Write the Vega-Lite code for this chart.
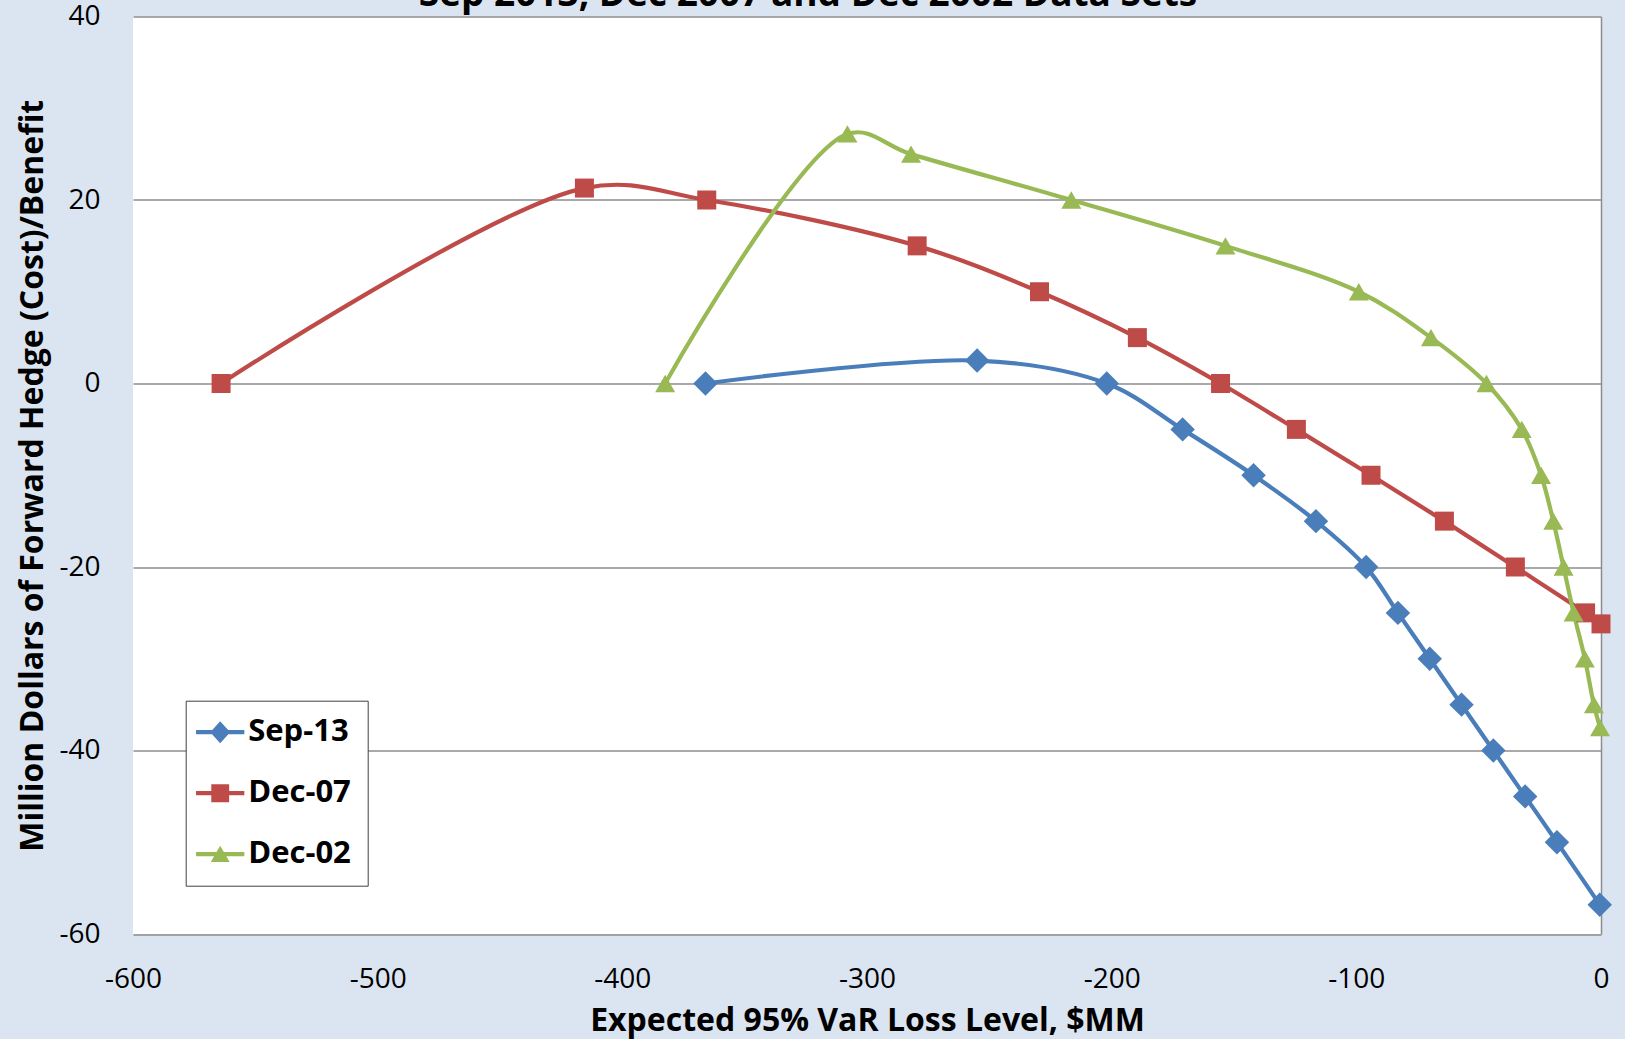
{
  "$schema": "https://vega.github.io/schema/vega-lite/v6.json",
  "width": 1468,
  "height": 917.5,
  "autosize": {"type": "none"},
  "padding": {"left": 133, "top": 16.5, "right": 24, "bottom": 105},
  "background": "#DBE5F1",
  "title": {
    "text": "Sep 2013, Dec 2007 and Dec 2002 Data Sets",
    "font": "Open Sans",
    "fontSize": 37,
    "fontWeight": "bold",
    "color": "#000000",
    "baseline": "alphabetic",
    "offset": -40,
    "dx": -59,
    "anchor": "middle"
  },
  "config": {
    "view": {"stroke": null, "fill": "#FFFFFF"},
    "font": "Open Sans"
  },
  "data": {
    "values": [
      {"series": "Sep-13", "x": -366, "y": 0},
      {"series": "Sep-13", "x": -255, "y": 2.5},
      {"series": "Sep-13", "x": -202, "y": 0},
      {"series": "Sep-13", "x": -171, "y": -5},
      {"series": "Sep-13", "x": -142, "y": -10},
      {"series": "Sep-13", "x": -116.5, "y": -15},
      {"series": "Sep-13", "x": -96, "y": -20},
      {"series": "Sep-13", "x": -83, "y": -25},
      {"series": "Sep-13", "x": -70, "y": -30},
      {"series": "Sep-13", "x": -57, "y": -35},
      {"series": "Sep-13", "x": -44, "y": -40},
      {"series": "Sep-13", "x": -31, "y": -45},
      {"series": "Sep-13", "x": -18, "y": -50},
      {"series": "Sep-13", "x": -0.5, "y": -56.8},
      {"series": "Dec-07", "x": -564, "y": 0},
      {"series": "Dec-07", "x": -415.5, "y": 21.3},
      {"series": "Dec-07", "x": -365.5, "y": 20},
      {"series": "Dec-07", "x": -279.5, "y": 15},
      {"series": "Dec-07", "x": -229.5, "y": 10},
      {"series": "Dec-07", "x": -189.5, "y": 5},
      {"series": "Dec-07", "x": -155.5, "y": 0},
      {"series": "Dec-07", "x": -124.5, "y": -5},
      {"series": "Dec-07", "x": -94, "y": -10},
      {"series": "Dec-07", "x": -64, "y": -15},
      {"series": "Dec-07", "x": -35, "y": -20},
      {"series": "Dec-07", "x": -6.3, "y": -25},
      {"series": "Dec-07", "x": 0, "y": -26.2},
      {"series": "Dec-02", "x": -382.5, "y": 0},
      {"series": "Dec-02", "x": -308, "y": 27.2},
      {"series": "Dec-02", "x": -282, "y": 25},
      {"series": "Dec-02", "x": -216.5, "y": 20},
      {"series": "Dec-02", "x": -153.5, "y": 15},
      {"series": "Dec-02", "x": -99, "y": 10},
      {"series": "Dec-02", "x": -69.5, "y": 5},
      {"series": "Dec-02", "x": -46.8, "y": 0},
      {"series": "Dec-02", "x": -32.4, "y": -5},
      {"series": "Dec-02", "x": -24.5, "y": -10},
      {"series": "Dec-02", "x": -19.5, "y": -15},
      {"series": "Dec-02", "x": -15.3, "y": -20},
      {"series": "Dec-02", "x": -11.2, "y": -25},
      {"series": "Dec-02", "x": -6.6, "y": -30},
      {"series": "Dec-02", "x": -2.9, "y": -35},
      {"series": "Dec-02", "x": -0.4, "y": -37.5}
    ]
  },
  "encoding": {
    "x": {
      "field": "x",
      "type": "quantitative",
      "scale": {"domain": [-600, 0], "nice": false, "zero": false},
      "axis": {
        "values": [-600, -500, -400, -300, -200, -100, 0],
        "labelExpr": "datum.value + ''",
        "title": "Expected 95% VaR Loss Level, $MM",
        "grid": true,
        "gridColor": {"condition": {"test": "datum.value === 0", "value": "#8C8C8C"}, "value": "transparent"},
        "gridWidth": 1.5,
        "domain": false,
        "ticks": false,
        "tickSize": 0,
        "labelPadding": 31,
        "labelFlush": false,
        "labelOverlap": false,
        "labelFont": "Open Sans",
        "labelFontSize": 28,
        "labelColor": "#000000",
        "titleFont": "Open Sans",
        "titleFontSize": 32,
        "titleFontWeight": "bold",
        "titleColor": "#000000",
        "titleBaseline": "alphabetic",
        "titleY": 96
      }
    },
    "y": {
      "field": "y",
      "type": "quantitative",
      "scale": {"domain": [-60, 40], "nice": false, "zero": false},
      "axis": {
        "values": [-60, -40, -20, 0, 20, 40],
        "labelExpr": "datum.value + ''",
        "title": "Million Dollars of Forward Hedge (Cost)/Benefit",
        "grid": true,
        "gridColor": "#8C8C8C",
        "gridWidth": 1.3,
        "domain": false,
        "ticks": false,
        "tickSize": 0,
        "labelPadding": 33,
        "labelFlush": false,
        "labelOverlap": false,
        "labelFont": "Open Sans",
        "labelFontSize": 28,
        "labelColor": "#000000",
        "titleFont": "Open Sans",
        "titleFontSize": 32,
        "titleFontWeight": "bold",
        "titleColor": "#000000",
        "titleBaseline": "alphabetic",
        "titleX": -91
      }
    },
    "color": {
      "field": "series",
      "type": "nominal",
      "scale": {"domain": ["Sep-13", "Dec-07", "Dec-02"], "range": ["#4A7EBB", "#BE4B48", "#98B954"]},
      "legend": {
        "title": null,
        "orient": "none",
        "legendX": 52.7,
        "legendY": 684.2,
        "padding": 16,
        "rowPadding": 29,
        "labelOffset": 12.5,
        "symbolOffset": 3,
        "labelFont": "Open Sans",
        "labelFontSize": 31,
        "labelFontWeight": "bold",
        "labelColor": "#000000",
        "strokeColor": "#404040",
        "fillColor": "#FFFFFF",
        "symbolSize": 441,
        "symbolStrokeWidth": 0,
        "symbolOpacity": 1
      }
    }
  },
  "layer": [
    {
      "mark": {"type": "point", "filled": true, "opacity": 0, "size": 441},
      "encoding": {
        "shape": {
          "field": "series",
          "type": "nominal",
          "scale": {
            "domain": ["Sep-13", "Dec-07", "Dec-02"],
            "range": [
              "M-2.3,-0.2H2.3V0.2H-2.3ZM0,-1.05L0.95,0L0,1.05L-0.95,0Z",
              "M-2.3,-0.2H2.3V0.2H-2.3ZM-0.85,-0.85H0.85V0.85H-0.85Z",
              "M-2.3,-0.2H2.3V0.2H-2.3ZM0,-0.8L0.9,0.75H-0.9Z"
            ]
          },
          "legend": null
        }
      }
    },
    {
      "mark": {"type": "line", "interpolate": "catmull-rom", "strokeWidth": 4.2}
    },
    {
      "transform": [{"filter": "datum.series === 'Sep-13'"}],
      "mark": {"type": "point", "filled": true, "opacity": 1, "shape": "diamond", "size": 600}
    },
    {
      "transform": [{"filter": "datum.series === 'Dec-07'"}],
      "mark": {"type": "point", "filled": true, "opacity": 1, "shape": "square", "size": 361}
    },
    {
      "transform": [{"filter": "datum.series === 'Dec-02'"}],
      "mark": {"type": "point", "filled": true, "opacity": 1, "shape": "triangle-up", "size": 400}
    }
  ]
}
